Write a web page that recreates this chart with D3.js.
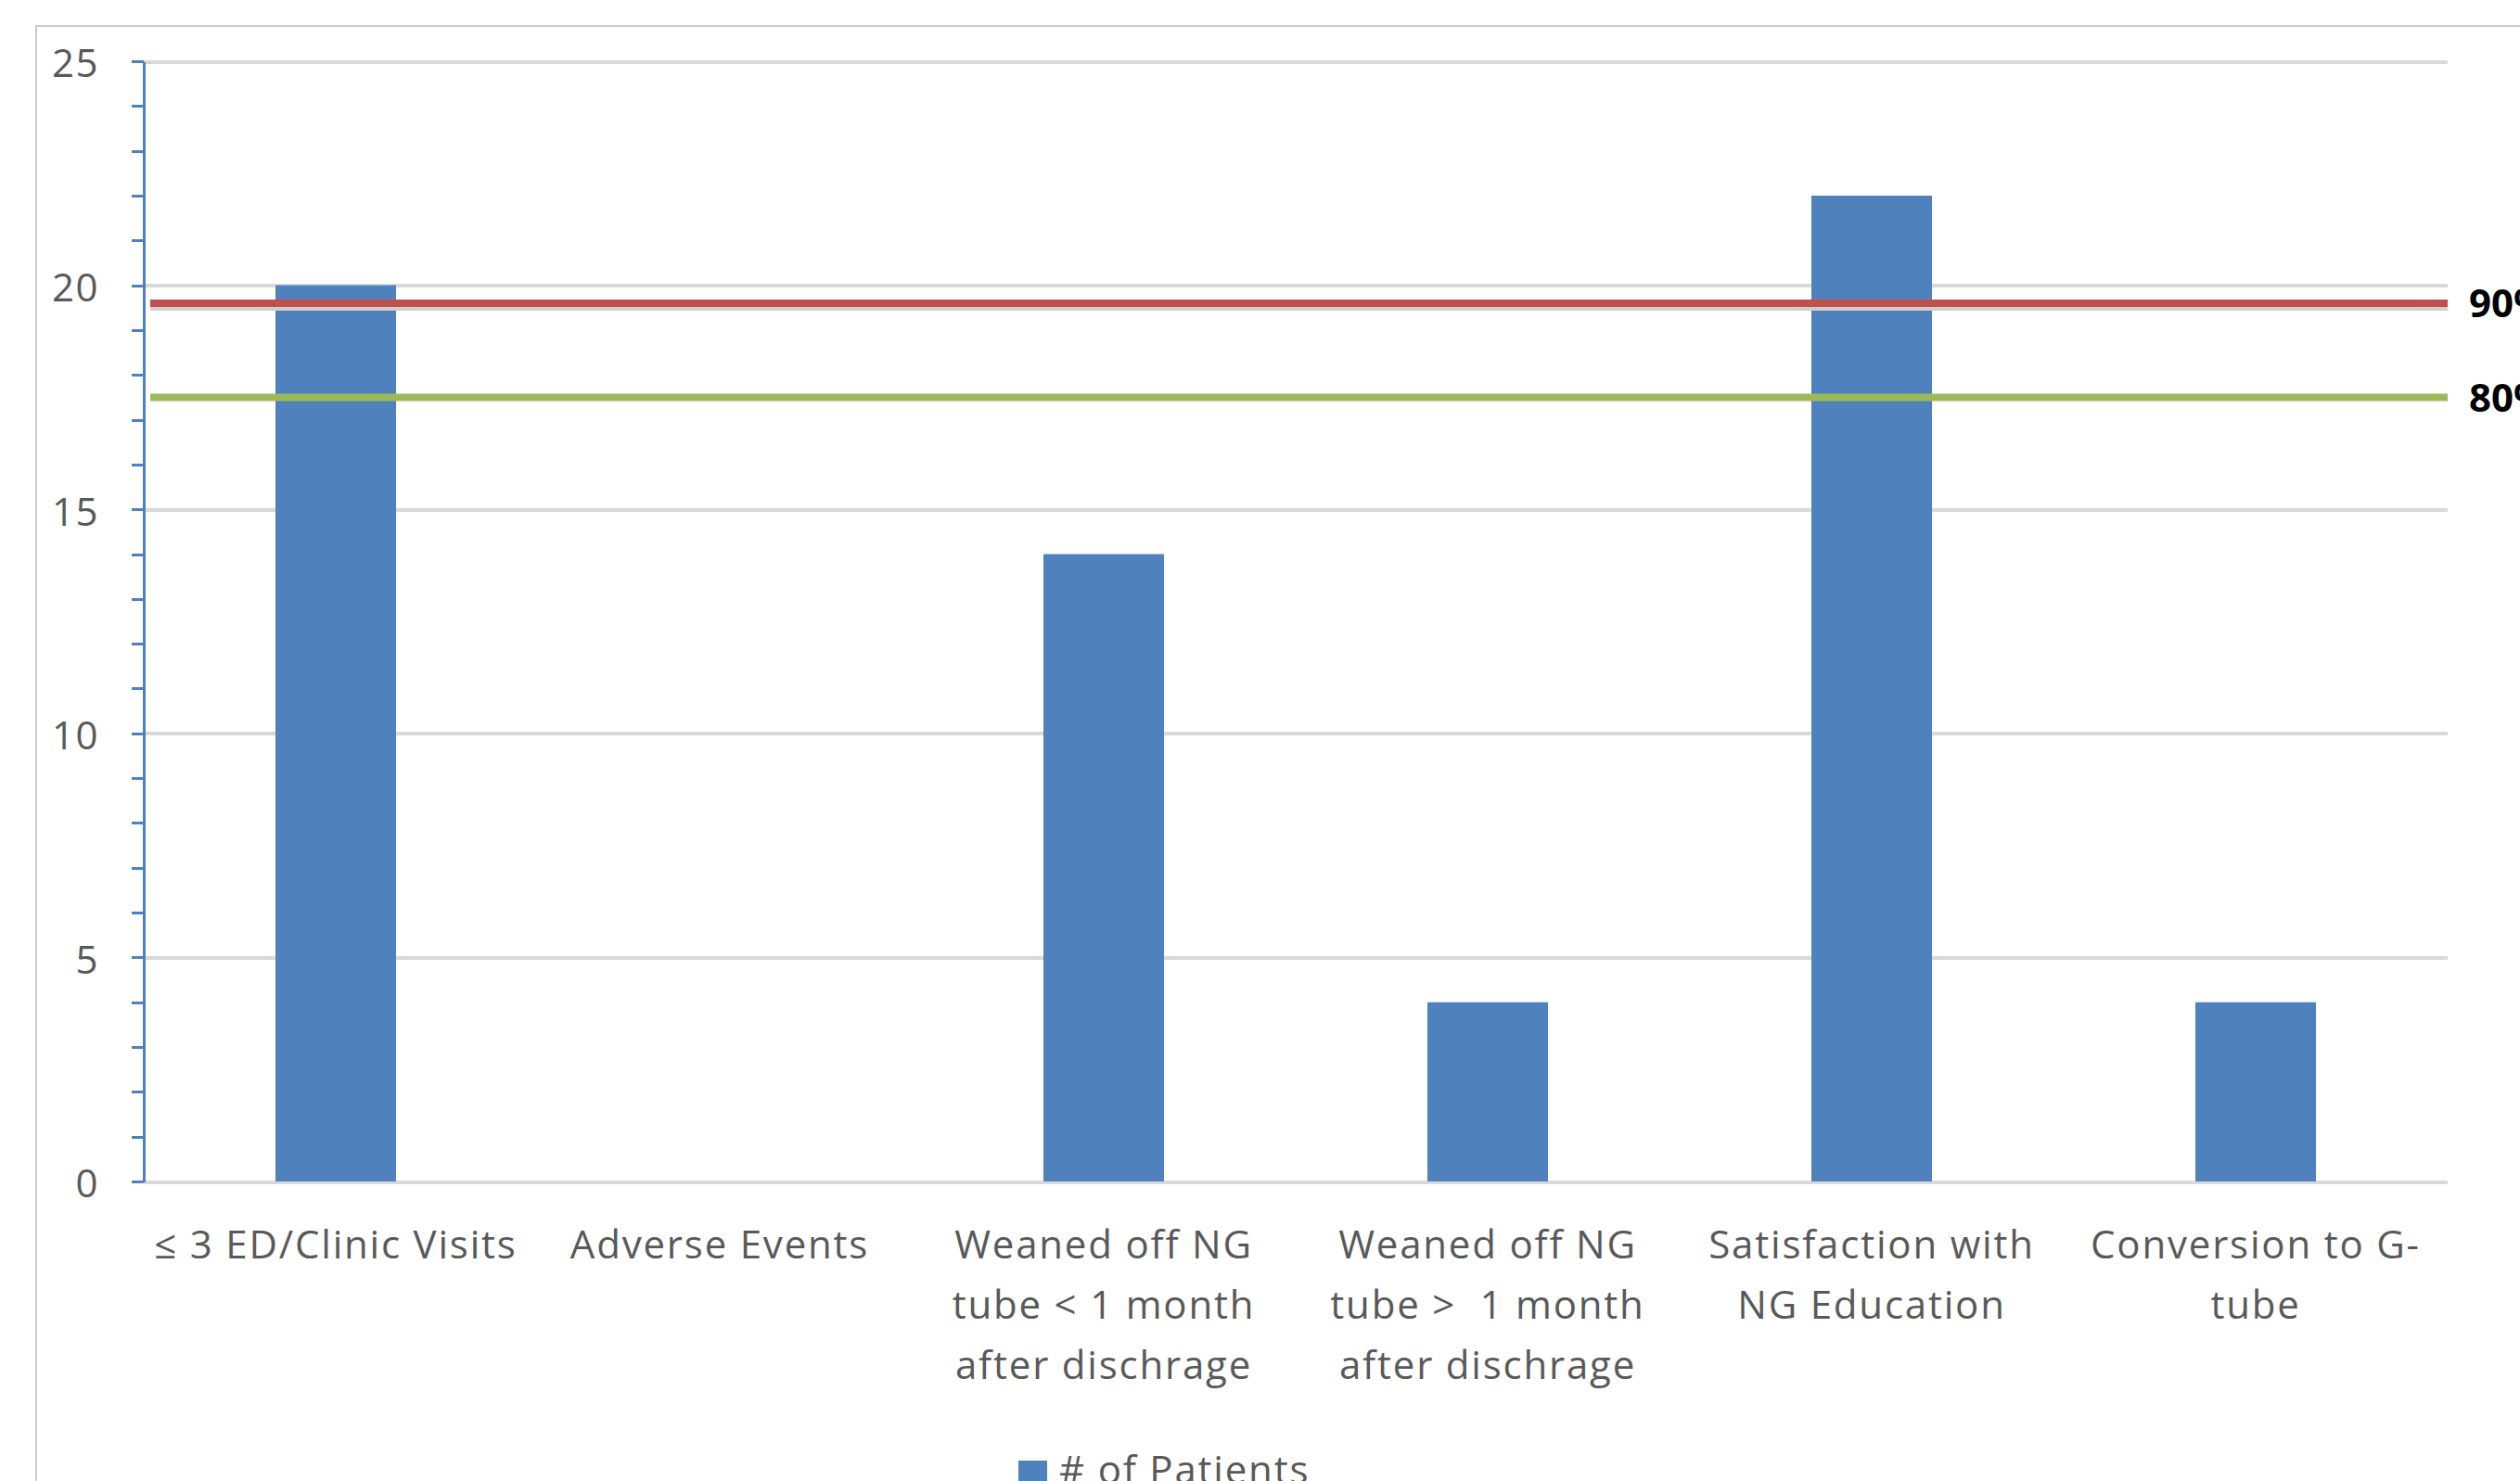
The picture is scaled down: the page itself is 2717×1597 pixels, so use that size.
<!DOCTYPE html>
<html lang="en">
    <head>
        <meta charset="utf-8">
        <title>D3.js - NG tube outcomes</title>
        <script type="text/javascript" src="https://cdn.jsdelivr.net/npm/d3@7"></script>

		<style>
			body {margin: 0; background: #ffffff;}
			text {font-family: "Open Sans", sans-serif; font-size: 42px; fill: #595959; white-space: pre;}
			.axeOrdonnees path, .axeOrdonnees line {stroke: #4f81bd; stroke-width: 3px; shape-rendering: crispEdges;}
			.axeOrdonnees text {letter-spacing: 1.5px;}
			.grilleOrdonnees line {stroke: #d9d9d9; stroke-width: 4px; shape-rendering: crispEdges;}
			.grilleOrdonnees path {display: none;}
			.bande {fill: #4f81bd;}
			.categorie {letter-spacing: 1.8px;}
			.cible text {fill: #000000; font-weight: bold;}
		</style>
    </head>
    <body>
		<svg width="2717" height="1597"></svg>
        <script type="text/javascript">

		// data
		let categories = [
			["≤ 3 ED/Clinic Visits"],
			["Adverse Events"],
			["Weaned off NG", "tube < 1 month", "after dischrage"],
			["Weaned off NG", "tube >  1 month", "after dischrage"],
			["Satisfaction with", "NG Education"],
			["Conversion to G-", "tube"]
		];
		let patients = [20, 0, 14, 4, 22, 4];
		let yTicks = [0, 5, 10, 15, 20, 25];
		let cibles = [19.6, 17.5];
		let ciblesLabels = ["90%", "80%"];
		let serieLabel = "# of Patients";

		let svg = d3.select("svg");

		// frame of the chart
		svg.append("rect")
			.attr("x", 39)
			.attr("y", 28)
			.attr("width", 2800)
			.attr("height", 1700)
			.style("fill", "none")
			.style("stroke", "#cccccc")
			.style("stroke-width", 2);

		let echelleX = d3.scaleBand()
			.domain(d3.range(categories.length))
			.range([155, 2639])
			.paddingInner(0.686)
			.paddingOuter(0.343);

		let echelleY = d3.scaleLinear()
			.domain([0, 25])
			.range([1274, 66]);

		// grid
		svg.append("g")
			.classed("grilleOrdonnees", true)
			.attr("transform", "translate(155, 0)")
			.call(d3.axisLeft(echelleY)
				.tickValues(yTicks)
				.tickFormat("")
				.tickSizeOuter(0)
				.tickSize(-(2639 - 155)));

		// bars
		svg.selectAll("rect.bande")
			.data(patients)
			.enter()
			.append("rect")
				.classed("bande", true)
				.attr("x", (d, i) => echelleX(i))
				.attr("width", echelleX.bandwidth())
				.attr("y", d => echelleY(d))
				.attr("height", d => echelleY(0) - echelleY(d));

		// y axis, one tick per unit, labels every 5
		svg.append("g")
			.classed("axeOrdonnees", true)
			.attr("transform", "translate(155, 0)")
			.call(d3.axisLeft(echelleY)
				.tickValues(d3.range(0, 26))
				.tickSize(13)
				.tickSizeOuter(0)
				.tickPadding(35)
				.tickFormat(d => yTicks.includes(d) ? d : ""))
			.selectAll("text")
				.attr("dy", "0.4em");

		// target lines
		let cible = svg.selectAll("g.cible")
			.data(cibles)
			.enter()
			.append("g")
				.classed("cible", true);

		// shadow under the red line
		cible.filter((d, i) => i === 0)
			.append("line")
				.attr("x1", 162)
				.attr("x2", 2639)
				.attr("y1", d => echelleY(d) + 6)
				.attr("y2", d => echelleY(d) + 6)
				.style("stroke", "#cfcfcf")
				.style("stroke-width", 4);

		cible.append("line")
			.attr("x1", 162)
			.attr("x2", 2639)
			.attr("y1", d => echelleY(d))
			.attr("y2", d => echelleY(d))
			.style("stroke", (d, i) => i === 0 ? "#c0504d" : "#9bbb59")
			.style("stroke-width", 8);

		cible.append("text")
			.text((d, i) => ciblesLabels[i])
			.attr("x", 2662)
			.attr("y", d => echelleY(d))
			.attr("dy", "0.36em");

		// category labels
		let legendeAbscisses = svg.append("g")
			.classed("legendeAbscisses", true);

		legendeAbscisses.selectAll("text.categorie")
			.data(categories)
			.enter()
			.append("text")
				.classed("categorie", true)
				.style("text-anchor", "middle")
				.attr("x", (d, i) => echelleX(i) + echelleX.bandwidth() / 2)
				.attr("y", 1357)
			.selectAll("tspan")
			.data(d => d)
			.enter()
			.append("tspan")
				.attr("x", function () { return this.parentNode.getAttribute("x"); })
				.attr("dy", (d, i) => i === 0 ? 0 : 65)
				.text(d => d);

		// legend
		let legende = svg.append("g")
			.classed("legende", true)
			.attr("transform", "translate(1098, 1575)");

		legende.append("rect")
			.attr("width", 31)
			.attr("height", 31)
			.style("fill", "#4f81bd");

		legende.append("text")
			.text(serieLabel)
			.attr("x", 44)
			.attr("y", 25)
			.style("letter-spacing", "1.8px");
		</script>
    </body>
</html>
